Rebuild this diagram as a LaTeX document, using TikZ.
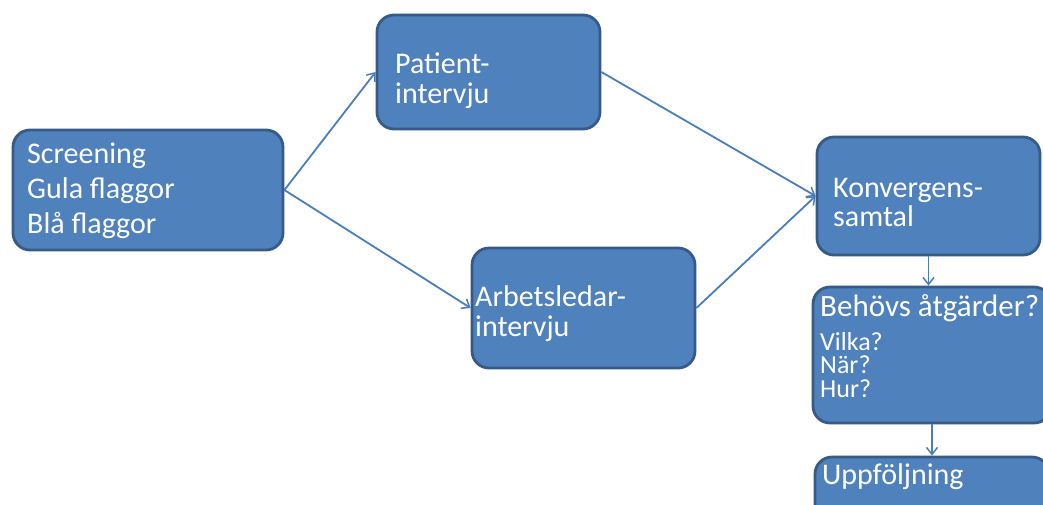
\documentclass[tikz,border=0pt]{standalone}
\usepackage{fontspec}
\setmainfont{Carlito}
\usetikzlibrary{arrows.meta}
\definecolor{boxfill}{HTML}{4F81BD}
\definecolor{boxline}{HTML}{375A87}
\definecolor{arrowc}{HTML}{4A7EBB}
\tikzset{
  box/.style={draw=boxline, line width=2.8pt, fill=boxfill, rounded corners=17pt, inner sep=0pt},
  txt/.style={text=white, anchor=west, inner sep=0pt, align=left, font=\fontsize{30}{32}\selectfont},
  smalltxt/.style={text=white, anchor=west, inner sep=0pt, align=left, font=\fontsize{26}{23.5}\selectfont},
  conn/.style={draw=arrowc, line width=1.8pt, -{Straight Barb[length=7pt,width=11pt,line width=1.5pt]}}
}
\begin{document}
\begin{tikzpicture}[x=1pt,y=-1pt]
\useasboundingbox (0,0) rectangle (1043,504);
\fill[white] (0,0) rectangle (1043,504);
\clip (0,0) rectangle (1043,504);
\node[box, minimum width=270pt, minimum height=120pt] (scr) at (148,190) {};
\node[box, minimum width=223pt, minimum height=114pt] (pat) at (488.5,72) {};
\node[box, minimum width=223pt, minimum height=120pt] (arb) at (583.5,308) {};
\node[box, minimum width=223pt, minimum height=118pt] (kon) at (928.5,196) {};
\node[box, minimum width=238pt, minimum height=136pt] (beh) at (932,355) {};
\node[box, minimum width=234pt, minimum height=116pt] (upp) at (932,515) {};

\node[txt, font=\fontsize{30}{35}\selectfont] (scrt) at (27,191) {Screening\\Gula flaggor\\Blå flaggor};
\node[txt, font=\fontsize{30}{30}\selectfont] (patt) at (395,81) {Patient-\\intervju};
\node[txt, font=\fontsize{30}{30}\selectfont] (arbt) at (475,314) {Arbetsledar-\\intervju};
\node[txt, font=\fontsize{30}{29}\selectfont] (kont) at (833,202) {Konvergens-\\samtal};
\node[txt, font=\fontsize{31}{31}\selectfont] (beht) at (820,308) {Behövs åtgärder?};
\node[smalltxt] (behs) at (820,365) {Vilka?\\När?\\Hur?};
\node[txt] (uppt) at (822,477) {Uppföljning};

\draw[conn] (scr.east) -- (pat.west);
\draw[conn] (scr.east) -- (arb.west);
\draw[conn] (pat.east) -- (kon.west);
\draw[conn] (arb.east) -- (kon.west);
\draw[conn] (kon.south) -- (kon.south |- beh.north);
\draw[conn] (beh.south) -- (upp.north);
\end{tikzpicture}
\end{document}
